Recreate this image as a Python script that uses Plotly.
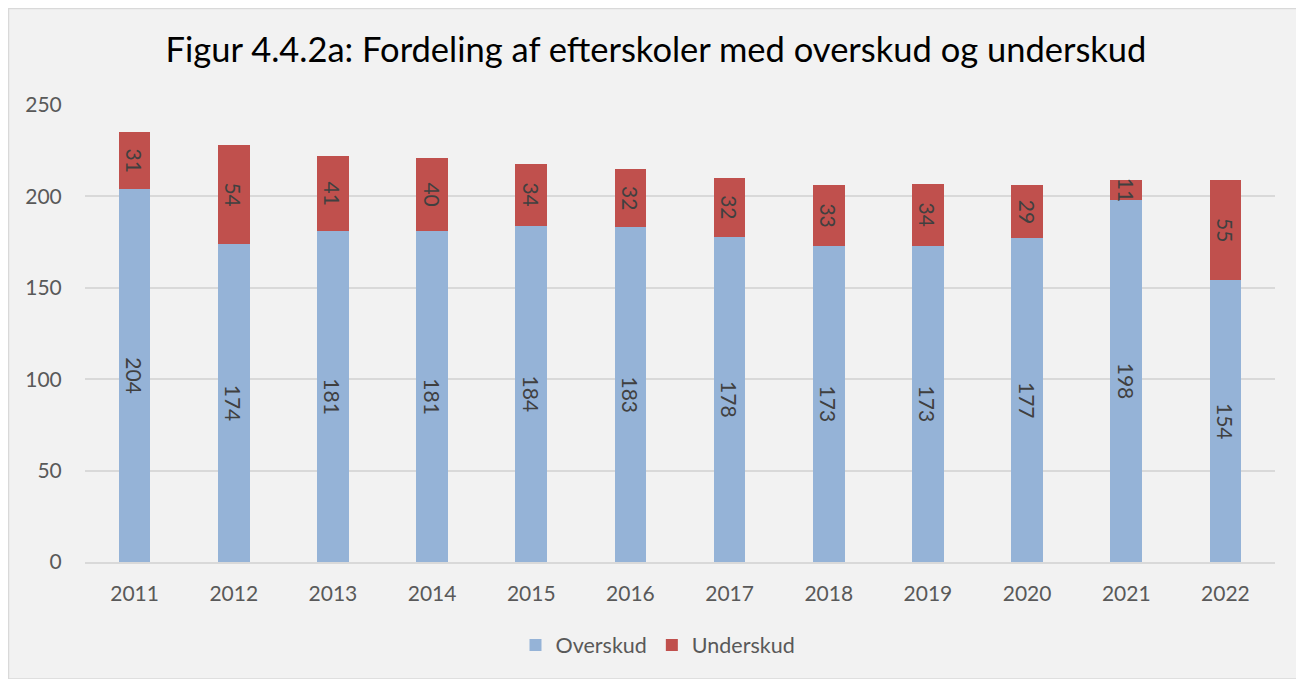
import plotly.graph_objects as go

years = ["2011", "2012", "2013", "2014", "2015", "2016", "2017", "2018", "2019", "2020", "2021", "2022"]
overskud = [204, 174, 181, 181, 184, 183, 178, 173, 173, 177, 198, 154]
underskud = [31, 54, 41, 40, 34, 32, 32, 33, 34, 29, 11, 55]
yticks = [0, 50, 100, 150, 200, 250]

FONT = "Lato"
W, H = 1304, 679
ml, mr, mt, mb = 77, 37, 97, 125
pw, ph = W - ml - mr, H - mt - mb

def px2x(p):
    return (p - ml) / pw

def px2y(p):
    return (H - mb - p) / ph

fig = go.Figure()
for name, vals, col in [("Overskud", overskud, "#95b3d7"), ("Underskud", underskud, "#c0504d")]:
    fig.add_trace(go.Bar(
        x=years, y=vals, name=name,
        marker=dict(color=col, line=dict(width=0)),
        text=[str(v) for v in vals], textposition="inside",
        insidetextanchor="middle", textangle=90,
        constraintext="none",
        textfont=dict(family=FONT, size=21, color="#404040"),
        width=0.32,
    ))

fig.add_shape(type="rect", xref="paper", yref="paper",
              x0=px2x(0.5), x1=px2x(1292), y0=px2y(671), y1=px2y(0.5),
              fillcolor="#f2f2f2", line=dict(color="#d9d9d9", width=1.5), layer="below")

fig.update_layout(
    width=W, height=H,
    barmode="stack",
    paper_bgcolor="white",
    plot_bgcolor="rgba(0,0,0,0)",
    margin=dict(l=ml, r=mr, t=mt, b=mb),
    title=dict(text="Figur 4.4.2a: Fordeling af efterskoler med overskud og underskud",
               x=648 / W, xanchor="center", y=1 - 42 / H, yanchor="middle",
               font=dict(family=FONT, size=34.5, color="#000000")),
    showlegend=True,
    legend=dict(orientation="h", x=px2x(650), xanchor="center", y=px2y(637), yanchor="middle",
                font=dict(family=FONT, size=21.5, color="#595959"), traceorder="normal",
                bgcolor="rgba(0,0,0,0)"),
    xaxis=dict(tickfont=dict(family=FONT, size=21, color="#595959"), showgrid=False,
               showline=True, linecolor="#d9d9d9", linewidth=1.5,
               ticks="outside", ticklen=12, tickcolor="rgba(0,0,0,0)"),
    yaxis=dict(range=[0, 250], tickvals=yticks, tickfont=dict(family=FONT, size=21, color="#595959"),
               gridcolor="#d9d9d9", gridwidth=1.5, zeroline=False, showline=False,
               ticks="outside", ticklen=18, tickcolor="rgba(0,0,0,0)"),
    font=dict(family=FONT),
)

fig.write_html("out.html")
